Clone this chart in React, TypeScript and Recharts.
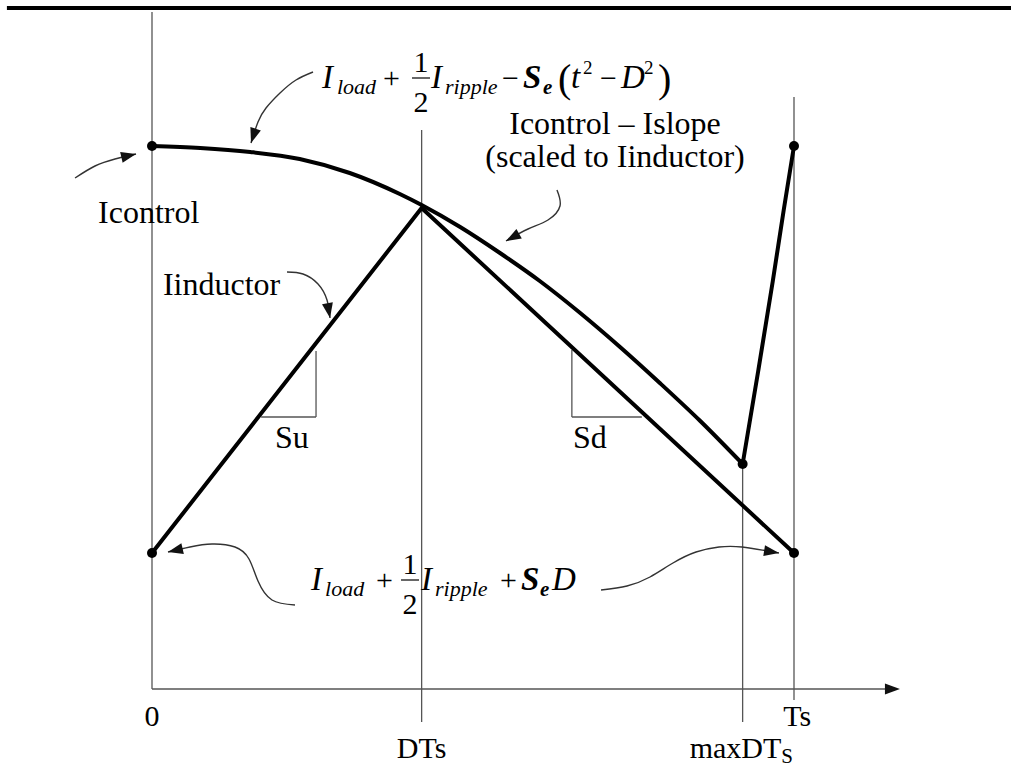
import React from "react";
import { LineChart, Line, XAxis, YAxis, ReferenceLine, ReferenceDot } from "recharts";

const SERIF = "Liberation Serif, Times New Roman, serif";
const W = 1011;
const H = 768;

// time in units of Ts, current in arbitrary units (x axis sits at 0)
const DT = 0.42;
const MAX_DT = 0.92;
const TS = 1;

// Icontrol - Islope, falling part (0 .. maxDTs)
const controlT = [0, 0.075, 0.153, 0.23, 0.308, 0.386, 0.42, 0.48, 0.542, 0.604, 0.667, 0.729, 0.791, 0.854, 0.92];
const controlV = [5.43, 5.41, 5.37, 5.3, 5.16, 4.95, 4.84, 4.62, 4.36, 4.08, 3.76, 3.42, 3.06, 2.68, 2.25];
// reset after maxDTs
const riseT = [0.92, 0.944, 0.967, 0.984, 1];
const riseV = [2.25, 3.17, 4.08, 4.79, 5.43];
// inductor current
const inductorT = [0, DT, TS];
const inductorV = [1.36, 4.81, 1.36];

const dotT = [0, 0, MAX_DT, TS, TS];
const dotV = [5.43, 1.36, 2.25, 5.43, 1.36];

// vertical guide lines: t, from, to
const guideT = [0, DT, MAX_DT, TS];
const guideFrom = [0, -0.33, -0.33, -0.11];
const guideTo = [6.77, 5.59, 2.25, 5.92];

// slope triangles
const suT = [0.17, 0.2555];
const suV = [2.72, 3.38];
const sdT = [0.654, 0.763];
const sdV = [2.72, 3.39];

// annotation arrows
const arrows = [
  { t: [0.2508, 0.2243, 0.1994, 0.1776, 0.1651, 0.1542], v: [6.17, 6.09, 5.96, 5.81, 5.67, 5.46], head: 108 },
  { t: [-0.1199, -0.0888, -0.0576, -0.0249], v: [5.11, 5.23, 5.3, 5.35], head: -13 },
  { t: [0.2103, 0.2352, 0.2586, 0.2726, 0.2773], v: [4.17, 4.15, 4.05, 3.89, 3.71], head: 80 },
  { t: [0.6308, 0.6355, 0.6168, 0.5857, 0.5514], v: [4.99, 4.83, 4.69, 4.6, 4.48], head: 151 },
  { t: [0.2227, 0.1869, 0.1651, 0.1511, 0.1293, 0.0935, 0.0592, 0.0249], v: [0.84, 0.89, 1.08, 1.3, 1.42, 1.45, 1.42, 1.37], head: 167 },
  { t: [0.6994, 0.7399, 0.7757, 0.8115, 0.8474, 0.8832, 0.919, 0.9766], v: [0.99, 1.03, 1.12, 1.26, 1.37, 1.42, 1.42, 1.36], head: 9 },
];

const labels = [
  { text: "Icontrol", t: -0.084, v: 4.66, anchor: "start" },
  { text: "Iinductor", t: 0.017, v: 3.94, anchor: "start" },
  { text: "Su", t: 0.218, v: 2.41, anchor: "middle" },
  { text: "Sd", t: 0.682, v: 2.41, anchor: "middle" },
  { text: "Icontrol \u2013 Islope", t: 0.7212, v: 5.55, anchor: "middle" },
  { text: "(scaled to Iinductor)", t: 0.7212, v: 5.22, anchor: "middle" },
];

const tickText = ["0", "DTs", "maxDT", "Ts"];
const tickSub = ["", "", "S", ""];
const tickT = [0, DT, 0.918, 1.005];
const tickV = [-0.37, -0.69, -0.69, -0.37];

const zip = (t: number[], v: number[]) => t.map((x, i) => ({ t: x, v: v[i] }));

const GUIDE = "#555";

function Head({ cx, cy, angle }: any) {
  return (
    <polygon
      points="0,0 -15,-5.5 -15,5.5"
      transform={`translate(${cx},${cy}) rotate(${angle})`}
      fill="#111"
    />
  );
}

function Frac({ x, y, dy1, dy2, bar }: any) {
  return (
    <g>
      <text x={x} y={y + dy1} fontSize={30} textAnchor="middle">1</text>
      <line x1={x - 9} x2={x + 9} y1={y + bar} y2={y + bar} stroke="#000" strokeWidth={1.2} />
      <text x={x} y={y + dy2} fontSize={30} textAnchor="middle">2</text>
    </g>
  );
}

function TopFormula({ cx, cy }: any) {
  const x = cx;
  const y = cy;
  return (
    <g fill="#000" style={{ fontFamily: SERIF }}>
      <text x={x} y={y} fontSize={33} fontStyle="italic">I</text>
      <text x={x + 15} y={y + 6} fontSize={22} fontStyle="italic">load</text>
      <text x={x + 61} y={y} fontSize={30}>+</text>
      <Frac x={x + 99} y={y} dy1={-16} dy2={24} bar={-10} />
      <text x={x + 109} y={y} fontSize={33} fontStyle="italic">I</text>
      <text x={x + 123} y={y + 6} fontSize={22} fontStyle="italic">ripple</text>
      <text x={x + 180} y={y} fontSize={30}>{"\u2212"}</text>
      <text x={x + 201} y={y} fontSize={33} fontStyle="italic" fontWeight="bold">S</text>
      <text x={x + 221} y={y + 6} fontSize={21} fontStyle="italic" fontWeight="bold">e</text>
      <text x={x + 236} y={y + 4} fontSize={40}>(</text>
      <text x={x + 249} y={y} fontSize={33} fontStyle="italic">t</text>
      <text x={x + 261} y={y - 14} fontSize={19}>2</text>
      <text x={x + 278} y={y} fontSize={30}>{"\u2212"}</text>
      <text x={x + 299} y={y} fontSize={33} fontStyle="italic">D</text>
      <text x={x + 322} y={y - 14} fontSize={19}>2</text>
      <text x={x + 336} y={y + 4} fontSize={40}>)</text>
    </g>
  );
}

function BottomFormula({ cx, cy }: any) {
  const x = cx;
  const y = cy;
  return (
    <g fill="#000" style={{ fontFamily: SERIF }}>
      <text x={x} y={y} fontSize={33} fontStyle="italic">I</text>
      <text x={x + 14} y={y + 6} fontSize={22} fontStyle="italic">load</text>
      <text x={x + 65} y={y} fontSize={30}>+</text>
      <Frac x={x + 99} y={y} dy1={-16} dy2={24} bar={-10} />
      <text x={x + 110} y={y} fontSize={33} fontStyle="italic">I</text>
      <text x={x + 124} y={y + 6} fontSize={22} fontStyle="italic">ripple</text>
      <text x={x + 189} y={y} fontSize={30}>+</text>
      <text x={x + 210} y={y} fontSize={33} fontStyle="italic" fontWeight="bold">S</text>
      <text x={x + 229} y={y + 6} fontSize={21} fontStyle="italic" fontWeight="bold">e</text>
      <text x={x + 241} y={y} fontSize={33} fontStyle="italic">D</text>
    </g>
  );
}

export default function App() {
  return (
    <div style={{ position: "absolute", left: 0, top: 0, width: W, height: H, background: "#fff", fontFamily: SERIF }}>
      <LineChart width={W} height={H} margin={{ top: 0, right: 0, bottom: 0, left: 0 }}>
        <XAxis type="number" dataKey="t" domain={[-0.23676, 1.33801]} hide allowDataOverflow />
        <YAxis type="number" domain={[-0.79, 6.89]} hide allowDataOverflow />

        {/* top rule */}
        <ReferenceLine segment={[{ x: -0.226, y: 6.81 }, { x: 1.338, y: 6.81 }]} stroke="#000" strokeWidth={4} ifOverflow="visible" />

        {/* x axis with arrow */}
        <ReferenceLine segment={[{ x: 0, y: 0 }, { x: 1.15, y: 0 }]} stroke={GUIDE} strokeWidth={1.4} ifOverflow="visible" />
        <ReferenceDot x={1.165} y={0} ifOverflow="visible" shape={(p: any) => <Head cx={p.cx} cy={p.cy} angle={0} />} />

        {guideT.map((t, i) => (
          <ReferenceLine key={"g" + i} segment={[{ x: t, y: guideFrom[i] }, { x: t, y: guideTo[i] }]} stroke={GUIDE} strokeWidth={1.3} ifOverflow="visible" />
        ))}

        {/* slope triangles */}
        <ReferenceLine segment={[{ x: suT[0], y: suV[0] }, { x: suT[1], y: suV[0] }]} stroke={GUIDE} strokeWidth={1.3} />
        <ReferenceLine segment={[{ x: suT[1], y: suV[0] }, { x: suT[1], y: suV[1] }]} stroke={GUIDE} strokeWidth={1.3} />
        <ReferenceLine segment={[{ x: sdT[0], y: sdV[0] }, { x: sdT[1], y: sdV[0] }]} stroke={GUIDE} strokeWidth={1.3} />
        <ReferenceLine segment={[{ x: sdT[0], y: sdV[0] }, { x: sdT[0], y: sdV[1] }]} stroke={GUIDE} strokeWidth={1.3} />

        {arrows.map((a, i) => (
          <Line key={"a" + i} data={zip(a.t, a.v)} dataKey="v" type="natural" stroke="#333" strokeWidth={1.4} dot={false} activeDot={false} isAnimationActive={false} />
        ))}
        {arrows.map((a, i) => (
          <ReferenceDot key={"h" + i} x={a.t[a.t.length - 1]} y={a.v[a.v.length - 1]} ifOverflow="visible" shape={(p: any) => <Head cx={p.cx} cy={p.cy} angle={a.head} />} />
        ))}

        <Line data={zip(inductorT, inductorV)} dataKey="v" type="linear" stroke="#000" strokeWidth={4} dot={false} activeDot={false} isAnimationActive={false} />
        <Line data={zip(controlT, controlV)} dataKey="v" type="monotone" stroke="#000" strokeWidth={4} dot={false} activeDot={false} isAnimationActive={false} />
        <Line data={zip(riseT, riseV)} dataKey="v" type="monotone" stroke="#000" strokeWidth={4} dot={false} activeDot={false} isAnimationActive={false} />

        {dotT.map((t, i) => (
          <ReferenceDot key={"d" + i} x={t} y={dotV[i]} r={5} fill="#000" stroke="none" ifOverflow="visible" />
        ))}

        {labels.map((l, i) => (
          <ReferenceDot
            key={"l" + i}
            x={l.t}
            y={l.v}
            ifOverflow="visible"
            shape={(p: any) => (
              <text x={p.cx} y={p.cy} fontSize={32} textAnchor={l.anchor} fill="#000" style={{ fontFamily: SERIF }}>
                {l.text}
              </text>
            )}
          />
        ))}

        {tickText.map((s, i) => (
          <ReferenceDot
            key={"t" + i}
            x={tickT[i]}
            y={tickV[i]}
            ifOverflow="visible"
            shape={(p: any) => (
              <text x={p.cx} y={p.cy} fontSize={30} textAnchor="middle" fill="#000" style={{ fontFamily: SERIF }}>
                {s}
                {tickSub[i] ? <tspan fontSize={21} dy={5}>{tickSub[i]}</tspan> : null}
              </text>
            )}
          />
        ))}

        <ReferenceDot x={0.2648} y={6.01} ifOverflow="visible" shape={(p: any) => <TopFormula cx={p.cx} cy={p.cy} />} />
        <ReferenceDot x={0.2477} y={0.99} ifOverflow="visible" shape={(p: any) => <BottomFormula cx={p.cx} cy={p.cy} />} />
      </LineChart>
    </div>
  );
}
